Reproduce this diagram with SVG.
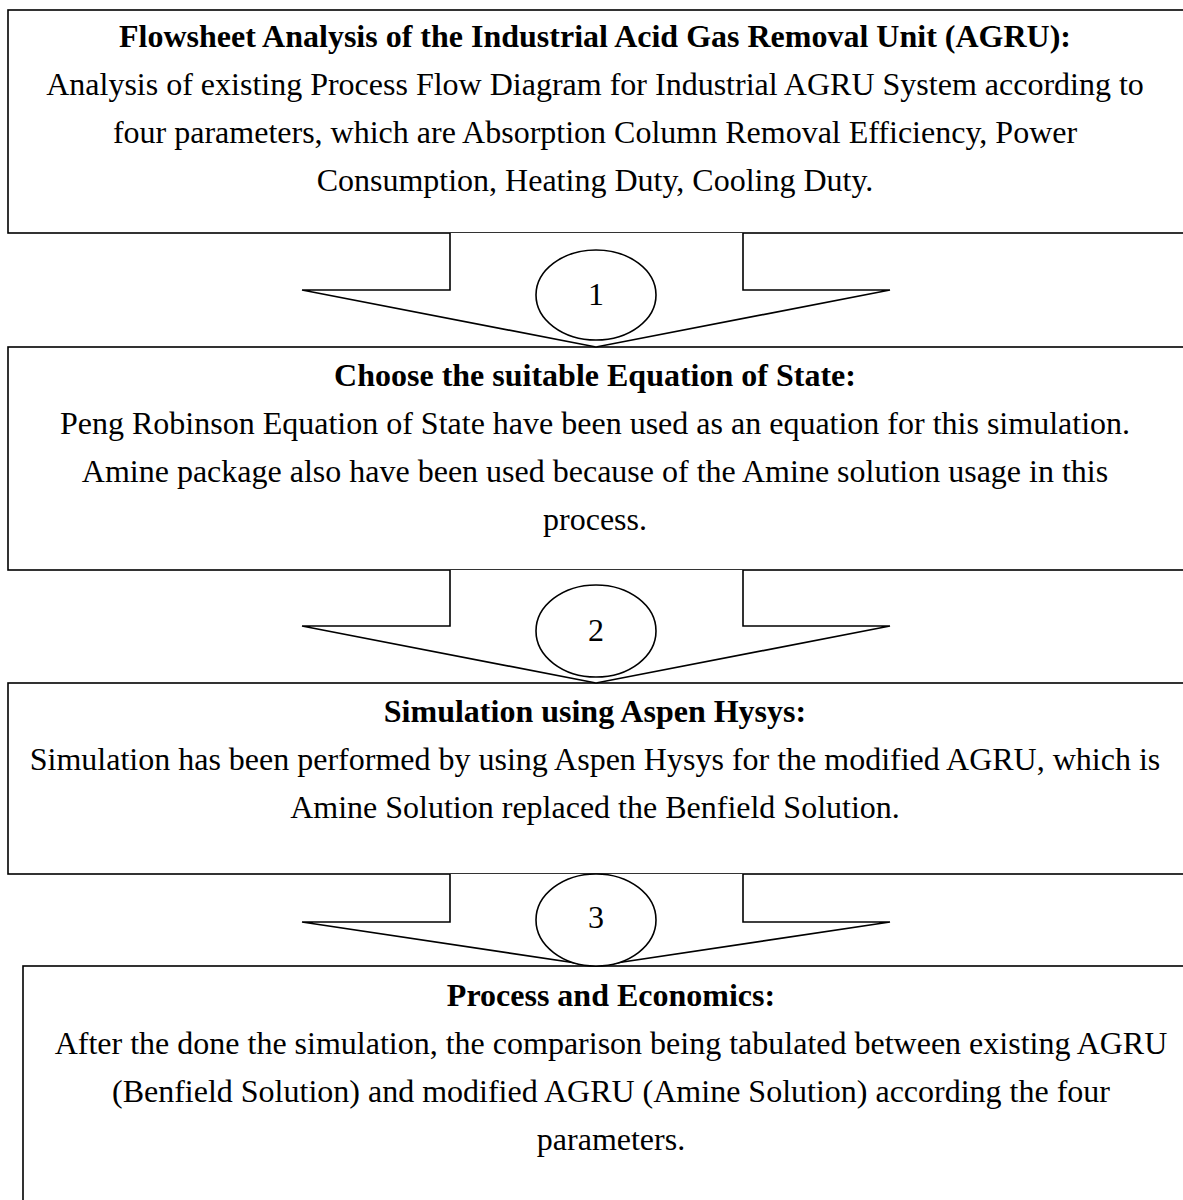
<svg xmlns="http://www.w3.org/2000/svg" width="1183" height="1200" viewBox="0 0 1183 1200">
<style>
.box{fill:#fff;stroke:#000;stroke-width:1.6}
.arr{fill:#fff;stroke:#000;stroke-width:1.6;stroke-linejoin:miter}
.ell{fill:#fff;stroke:#000;stroke-width:1.6}
text{font-family:"Liberation Serif","Times New Roman",serif;font-size:32px;fill:#000;text-anchor:middle}
.b{font-weight:bold}
</style>
<rect width="1183" height="1200" fill="#fff"/>
<g id="node1">
<rect class="box" x="8" y="10" width="1190" height="223"/>
<text class="b" x="595" y="47">Flowsheet Analysis of the Industrial Acid Gas Removal Unit (AGRU):</text>
<text x="595" y="95">Analysis of existing Process Flow Diagram for Industrial AGRU System according to</text>
<text x="595" y="143">four parameters, which are Absorption Column Removal Efficiency, Power</text>
<text x="595" y="191">Consumption, Heating Duty, Cooling Duty.</text>
</g>
<g id="node2">
<rect class="box" x="8" y="347" width="1190" height="223"/>
<text class="b" x="595" y="386">Choose the suitable Equation of State:</text>
<text x="595" y="434">Peng Robinson Equation of State have been used as an equation for this simulation.</text>
<text x="595" y="482">Amine package also have been used because of the Amine solution usage in this</text>
<text x="595" y="530">process.</text>
</g>
<g id="node3">
<rect class="box" x="8" y="683" width="1190" height="191"/>
<text class="b" x="595" y="722">Simulation using Aspen Hysys:</text>
<text x="595" y="770">Simulation has been performed by using Aspen Hysys for the modified AGRU, which is</text>
<text x="595" y="818">Amine Solution replaced the Benfield Solution.</text>
</g>
<g id="node4">
<rect class="box" x="23" y="966" width="1190" height="260"/>
<text class="b" x="611" y="1006">Process and Economics:</text>
<text x="611" y="1054">After the done the simulation, the comparison being tabulated between existing AGRU</text>
<text x="611" y="1102">(Benfield Solution) and modified AGRU (Amine Solution) according the four</text>
<text x="611" y="1150">parameters.</text>
</g>
<g id="connectors">
<polyline class="arr" points="450,233 450,290 302,290 596,347 890,290 743,290 743,233"/>
<polyline class="arr" points="450,570 450,626 302,626 596,683 890,626 743,626 743,570"/>
<polyline class="arr" points="450,874 450,922 302,922 596,966 890,922 743,922 743,874"/>
</g>
<g id="labels">
<g id="step1"><ellipse class="ell" cx="596" cy="295" rx="60" ry="45"/><text x="596" y="305">1</text></g>
<g id="step2"><ellipse class="ell" cx="596" cy="631" rx="60" ry="46"/><text x="596" y="641">2</text></g>
<g id="step3"><ellipse class="ell" cx="596" cy="920" rx="60" ry="46"/><text x="596" y="928">3</text></g>
</g>
</svg>
